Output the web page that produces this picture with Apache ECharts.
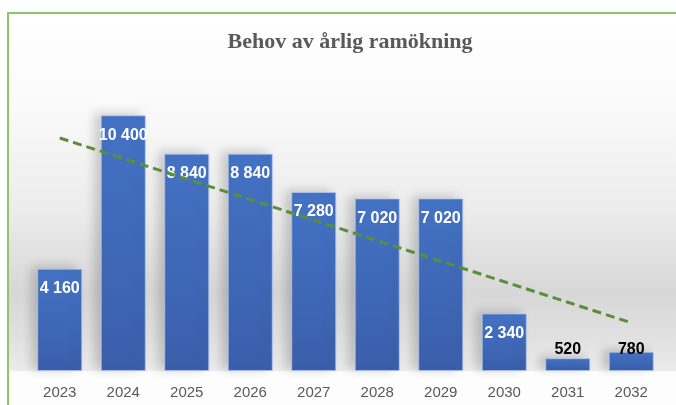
<!DOCTYPE html>
<html>
<head>
<meta charset="utf-8">
<script src="https://cdn.jsdelivr.net/npm/echarts@6/dist/echarts.min.js"></script>
<style>html,body{margin:0;padding:0;background:#fff;}#c{width:676px;height:405px;}</style>
</head>
<body>
<div id="c"></div>
<script>
const titleText = 'Behov av årlig ramökning';
const years = ['2023','2024','2025','2026','2027','2028','2029','2030','2031','2032'];
const needs = [4160, 10400, 8840, 8840, 7280, 7020, 7020, 2340, 520, 780];

// Linear trendline (least squares) computed from the bar values
const n = needs.length;
const xm = (n + 1) / 2;
const ym = needs.reduce((a, b) => a + b, 0) / n;
let sxy = 0, sxx = 0;
needs.forEach((v, i) => { const dx = (i + 1) - xm; sxy += dx * v; sxx += dx * dx; });
const slope = sxy / sxx;
const trend = needs.map((v, i) => ym + slope * ((i + 1) - xm));

const fmt = v => String(v).replace(/\B(?=(\d{3})+(?!\d))/g, ' ');

const barData = needs.map(v => v < 1000
  ? { value: v, label: { position: 'insideBottom', distance: 13, color: '#000' } }
  : v);

const chart = echarts.init(document.getElementById('c'), null, { renderer: 'canvas' });
chart.setOption({
  animation: false,
  backgroundColor: '#ffffff',
  graphic: [
    {
      type: 'rect', z: -10, silent: true,
      shape: { x: 8, y: 13, width: 720, height: 420 },
      style: {
        fill: {
          type: 'linear', x: 0, y: 13, x2: 0, y2: 372, global: true,
          colorStops: [
            { offset: 0, color: '#ffffff' },
            { offset: 0.25, color: '#fafafa' },
            { offset: 0.55, color: '#ececec' },
            { offset: 0.78, color: '#d7d7d7' },
            { offset: 0.9, color: '#e0e0e0' },
            { offset: 0.995, color: '#ebebeb' },
            { offset: 1, color: '#fdfdfd' }
          ]
        },
        stroke: '#8cc66a', lineWidth: 2
      }
    }
  ],
  title: {
    text: titleText,
    left: 345, top: 26, textAlign: 'center',
    textStyle: { fontFamily: 'Liberation Serif, Times New Roman, serif', fontWeight: 'bold', fontSize: 22, color: '#595959' }
  },
  grid: { left: 28, right: 13, top: 76, bottom: 34 },
  xAxis: {
    type: 'category', data: years,
    axisLine: { show: false }, axisTick: { show: false },
    axisLabel: { margin: 14, fontSize: 15, color: '#595959', fontFamily: 'Liberation Sans, Arial, sans-serif' }
  },
  yAxis: { type: 'value', min: 0, max: 12000, show: false, splitLine: { show: false } },
  series: [
    {
      type: 'bar', data: barData, barWidth: 45,
      itemStyle: {
        color: { type: 'linear', x: 0, y: 0, x2: 0, y2: 1, colorStops: [
          { offset: 0, color: '#4472c4' }, { offset: 1, color: '#3a5fab' } ] },
        borderColor: 'rgba(180,200,240,0.7)', borderWidth: 1,
        shadowColor: 'rgba(0,0,0,0.18)', shadowBlur: 10, shadowOffsetX: -6, shadowOffsetY: -2
      },
      label: {
        show: true, position: 'insideTop', distance: 12,
        color: '#ffffff', fontWeight: 'bold', fontSize: 16,
        fontFamily: 'Liberation Sans, Arial, sans-serif',
        formatter: p => fmt(p.value)
      }
    },
    {
      type: 'line', data: trend, symbol: 'none', z: 5,
      lineStyle: { color: '#5a8f3a', width: 3, type: [9, 5] }
    }
  ]
});
</script>
</body>
</html>
